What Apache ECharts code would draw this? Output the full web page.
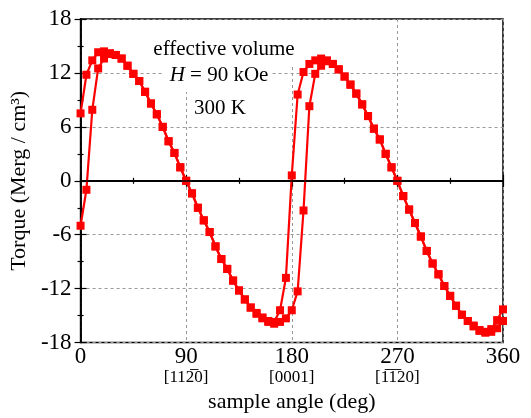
<!DOCTYPE html>
<html>
<head>
<meta charset="utf-8">
<script src="https://cdn.jsdelivr.net/npm/echarts@6/dist/echarts.min.js"></script>
<style>
html, body { margin: 0; padding: 0; background: #fff; }
#chart { width: 531px; height: 418px; }
</style>
</head>
<body>
<div id="chart"></div>
<script>
var angles = [0, 5, 10, 15, 20, 25, 30, 35, 40, 45, 50, 55, 60, 65, 70, 75, 80, 85,
    90, 95, 100, 105, 110, 115, 120, 125, 130, 135, 140, 145, 150, 155, 160, 165, 170, 175,
    180, 185, 190, 195, 200, 205, 210, 215, 220, 225, 230, 235, 240, 245, 250, 255, 260, 265,
    270, 275, 280, 285, 290, 295, 300, 305, 310, 315, 320, 325, 330, 335, 340, 345, 350, 355, 360];

// branch that switches first
var torqueA = [7.5, 11.8, 13.4, 14.3, 14.4, 14.2, 14.0, 13.6, 12.8, 11.9, 11.1, 9.9, 8.6, 7.4, 6.0, 4.4, 3.1, 1.5,
    0.0, -1.4, -3.0, -4.4, -5.7, -7.3, -8.7, -9.8, -11.1, -12.2, -13.2, -14.1, -14.7, -15.2, -15.6, -15.7, -14.4, -10.8,
    0.6, 9.6, 12.1, 13.0, 13.4, 13.6, 13.4, 13.0, 12.4, 11.6, 10.7, 9.7, 8.5, 7.2, 5.8, 4.6, 3.0, 1.5,
    0.0, -1.7, -3.2, -4.7, -6.2, -7.8, -9.2, -10.4, -11.7, -12.8, -13.9, -14.9, -15.6, -16.1, -16.6, -16.8, -16.5, -15.5, -14.3];

// lagging branch
var torqueB = [-5.0, -1.0, 7.9, 12.5, 13.6, 14.1, 14.0, 13.6, 12.8, 11.9, 11.1, 9.9, 8.6, 7.4, 6.0, 4.4, 3.1, 1.5,
    0.0, -1.4, -3.0, -4.4, -5.7, -7.3, -8.7, -9.8, -11.1, -12.2, -13.2, -14.1, -14.8, -15.3, -15.7, -15.9, -15.7, -15.3,
    -14.4, -12.3, -3.3, 8.3, 11.9, 12.8, 13.3, 13.0, 12.4, 11.6, 10.7, 9.7, 8.5, 7.2, 5.8, 4.6, 3.0, 1.5,
    0.0, -1.7, -3.2, -4.7, -6.2, -7.8, -9.2, -10.4, -11.7, -12.8, -13.9, -14.9, -15.6, -16.2, -16.7, -16.9, -16.8, -16.4, -15.6];

var xTicks = [0, 90, 180, 270, 360];
var xSubLabels = ['', '[112\u03050]', '[0001]', '[1\u03051\u030520]', ''];

function pair(xs, ys) {
    return xs.map(function (x, i) { return [x, ys[i]]; });
}

var serif = 'Liberation Serif, Times New Roman, serif';
var chart = echarts.init(document.getElementById('chart'));

var axisCommon = {
    type: 'value',
    axisLine: { show: true, lineStyle: { color: '#000', width: 1.5 } },
    axisTick: { show: true, inside: true, length: 6, lineStyle: { color: '#000', width: 1.2 } },
    minorTick: { show: true, splitNumber: 2, length: 3, lineStyle: { color: '#000', width: 1.2 } }
};

chart.setOption({
    animation: false,
    backgroundColor: '#fff',
    textStyle: { fontFamily: serif },
    grid: {
        left: 77, right: 28, top: 19, bottom: 72,
        show: true, borderColor: '#000', borderWidth: 1.5
    },
    xAxis: [
        Object.assign({}, axisCommon, {
            min: 0, max: 360, interval: 90,
            name: 'sample angle (deg)',
            nameLocation: 'middle',
            nameGap: 48,
            nameTextStyle: { fontFamily: serif, fontSize: 22, color: '#000' },
            axisLabel: {
                margin: 3,
                formatter: function (v) {
                    var i = xTicks.indexOf(v);
                    var s = '{a|' + v + '}';
                    if (i >= 0 && xSubLabels[i]) s += '\n{b|' + xSubLabels[i] + '}';
                    return s;
                },
                rich: {
                    a: { fontFamily: serif, fontSize: 23, lineHeight: 23, color: '#000' },
                    b: { fontFamily: serif, fontSize: 17, lineHeight: 18, color: '#000' }
                }
            },
            splitLine: { show: true, lineStyle: { color: '#999', type: [3, 3], width: 1 } }
        }),
        Object.assign({}, axisCommon, {
            min: 0, max: 360, interval: 90, position: 'top',
            axisLabel: { show: false },
            splitLine: { show: false }
        })
    ],
    yAxis: [
        Object.assign({}, axisCommon, {
            min: -18, max: 18, interval: 6,
            name: 'Torque (Merg / cm\u00b3)',
            nameLocation: 'middle',
            nameGap: 39,
            nameTextStyle: { fontFamily: serif, fontSize: 22, color: '#000' },
            axisLabel: { margin: 9, fontFamily: serif, fontSize: 23, color: '#000' },
            splitLine: { show: true, lineStyle: { color: '#999', type: [3, 3], width: 1 } }
        }),
        Object.assign({}, axisCommon, {
            min: -18, max: 18, interval: 6, position: 'right',
            axisLabel: { show: false },
            splitLine: { show: false }
        })
    ],
    series: [
        {
            type: 'line',
            data: [],
            silent: true,
            z: 1,
            markLine: {
                silent: true,
                symbol: 'none',
                label: { show: false },
                lineStyle: { color: '#000', type: 'solid', width: 1.5 },
                data: [{ yAxis: 0 }]
            }
        },
        {
            name: 'A',
            type: 'line',
            data: pair(angles, torqueA),
            symbol: 'rect',
            symbolSize: 8,
            itemStyle: { color: '#ff0000' },
            lineStyle: { color: '#ff0000', width: 2.2 },
            z: 3
        },
        {
            name: 'B',
            type: 'line',
            data: pair(angles, torqueB),
            symbol: 'rect',
            symbolSize: 8,
            itemStyle: { color: '#ff0000' },
            lineStyle: { color: '#ff0000', width: 2.2 },
            z: 3
        }
    ],
    graphic: [
        // white boxes behind the annotation, hiding the grid lines
        { type: 'rect', z: 1, shape: { x: 147, y: 20, width: 153, height: 44 }, style: { fill: '#fff' } },
        { type: 'rect', z: 1, shape: { x: 164, y: 62, width: 108, height: 30 }, style: { fill: '#fff' } },
        {
            type: 'text', x: 224, y: 49, z: 10,
            style: { text: 'effective volume', fontFamily: serif, fontSize: 21, fill: '#000',
                align: 'center', verticalAlign: 'middle' }
        },
        {
            type: 'text', x: 219, y: 75, z: 10,
            style: {
                text: '{i|H} = 90 kOe', fontFamily: serif, fontSize: 21, fill: '#000',
                align: 'center', verticalAlign: 'middle',
                rich: { i: { fontFamily: serif, fontSize: 21, fontStyle: 'italic' } }
            }
        },
        {
            type: 'text', x: 220, y: 108, z: 10,
            style: { text: '300 K', fontFamily: serif, fontSize: 21, fill: '#000',
                align: 'center', verticalAlign: 'middle' }
        }
    ]
});
</script>
</body>
</html>
